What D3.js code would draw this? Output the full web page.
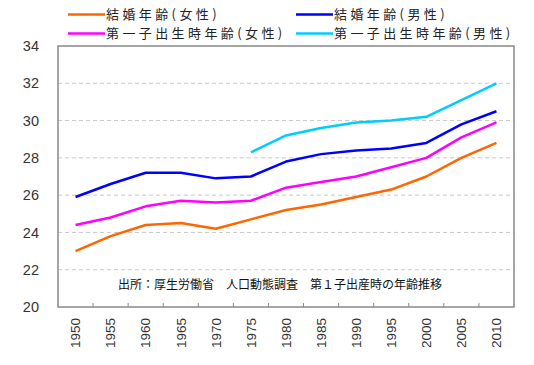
<!DOCTYPE html>
<html>
<head>
<meta charset="utf-8">
<script src="https://cdn.jsdelivr.net/npm/d3@7"></script>
<style>
  body { margin: 0; background: #fff; }
  svg { display: block; }
</style>
</head>
<body>
<div id="chart"></div>
<script>
// data
const years = ["1950","1955","1960","1965","1970","1975","1980","1985","1990","1995","2000","2005","2010"];
const marriageFemale = [23.0, 23.8, 24.4, 24.5, 24.2, 24.7, 25.2, 25.5, 25.9, 26.3, 27.0, 28.0, 28.8];
const marriageMale   = [25.9, 26.6, 27.2, 27.2, 26.9, 27.0, 27.8, 28.2, 28.4, 28.5, 28.8, 29.8, 30.5];
const firstChildFemale = [24.4, 24.8, 25.4, 25.7, 25.6, 25.7, 26.4, 26.7, 27.0, 27.5, 28.0, 29.1, 29.9];
const firstChildMale   = [null, null, null, null, null, 28.3, 29.2, 29.6, 29.9, 30.0, 30.2, 31.1, 32.0];
const yTicks = [20, 22, 24, 26, 28, 30, 32, 34];

const series = [
  {name: "結婚年齢(女性)", values: marriageFemale, color: "#ff6600"},
  {name: "結婚年齢(男性)", values: marriageMale, color: "#0000ff"},
  {name: "第一子出生時年齢(女性)", values: firstChildFemale, color: "#ff00ff"},
  {name: "第一子出生時年齢(男性)", values: firstChildMale, color: "#00ccff"}
];

const W = 534, H = 365;
const margin = {top: 46, right: 20, bottom: 58, left: 58};
const width = W - margin.left - margin.right,
      height = H - margin.top - margin.bottom;

const svg = d3.select("#chart").append("svg")
    .attr("width", W)
    .attr("height", H)
    .style("font-family", "'Liberation Sans', Arial, sans-serif");

const g = svg.append("g")
    .attr("transform", `translate(${margin.left},${margin.top})`);

const x = d3.scaleBand().domain(years).range([0, width]);
const y = d3.scaleLinear().domain([20, 34]).range([height, 0]);

// gridlines
g.selectAll(".grid")
  .data(yTicks.filter(d => d > 20 && d < 34))
  .join("line")
    .attr("x1", 0).attr("x2", width)
    .attr("y1", d => y(d)).attr("y2", d => y(d))
    .attr("stroke", "#c8c8c8")
    .attr("stroke-width", 1)
    .attr("stroke-dasharray", "4,3");

// frame
g.append("rect")
    .attr("width", width).attr("height", height)
    .attr("fill", "none")
    .attr("stroke", "#888")
    .attr("stroke-width", 1.5);

// y axis labels
const yAxis = g.append("g")
    .call(d3.axisLeft(y).tickValues(yTicks).tickSize(0).tickPadding(19));
yAxis.select(".domain").remove();
yAxis.selectAll("text")
    .attr("fill", "#333")
    .style("font-size", "14.5px")
    .style("font-family", "'Liberation Sans', Arial, sans-serif");

// x ticks at band boundaries (inside)
g.selectAll(".xtick")
  .data(years.slice(1))
  .join("line")
    .attr("x1", d => x(d)).attr("x2", d => x(d))
    .attr("y1", height).attr("y2", height - 4)
    .attr("stroke", "#888");

// x labels rotated
g.selectAll(".xlabel")
  .data(years)
  .join("text")
    .attr("transform", d => `translate(${x(d) + x.bandwidth() / 2},${height + 11}) rotate(-90)`)
    .attr("text-anchor", "end")
    .attr("dy", "0.35em")
    .attr("fill", "#333")
    .style("font-size", "13.5px")
    .text(d => d);

// lines
const line = d3.line()
    .defined(d => d.v != null)
    .x(d => x(d.year) + x.bandwidth() / 2)
    .y(d => y(d.v));

series.forEach(s => {
  g.append("path")
    .datum(years.map((yr, i) => ({year: yr, v: s.values[i]})))
    .attr("fill", "none")
    .attr("stroke", s.color)
    .attr("stroke-width", 2.5)
    .attr("stroke-linejoin", "round")
    .attr("d", line);
});

// annotation
g.append("text")
    .attr("x", 60)
    .attr("y", y(20.98))
    .attr("fill", "#111")
    .style("font-family", "'Noto Sans CJK JP', sans-serif")
    .style("font-size", "12px")
    .text("出所：厚生労働省　人口動態調査　第１子出産時の年齢推移");

// legend
const legendPos = [[68, 14.5], [296, 14.5], [68, 33.5], [296, 33.5]];
const legend = svg.append("g");
series.forEach((s, k) => {
  const [lx, ly] = legendPos[k];
  legend.append("line")
    .attr("x1", lx).attr("x2", lx + 37)
    .attr("y1", ly).attr("y2", ly)
    .attr("stroke", s.color)
    .attr("stroke-width", 2.5);
  legend.append("text")
    .attr("x", lx + 38)
    .attr("y", ly)
    .attr("dy", "0.35em")
    .attr("fill", "#222")
    .style("font-family", "'Noto Sans CJK JP', sans-serif")
    .style("font-size", "13px")
    .style("letter-spacing", "3.4px")
    .text(s.name);
});
</script>
</body>
</html>
